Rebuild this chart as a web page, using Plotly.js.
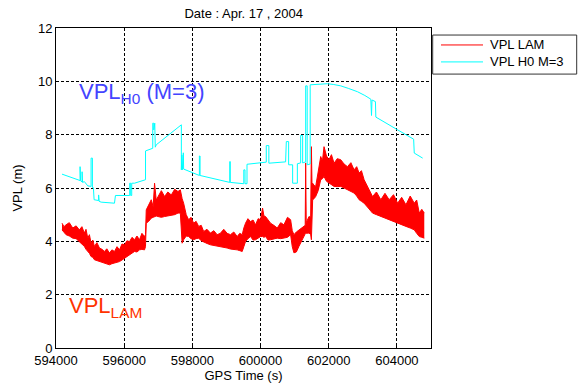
<!DOCTYPE html>
<html>
<head>
<meta charset="utf-8">
<script src="https://cdn.plot.ly/plotly-3.0.1.min.js"></script>
<style>html,body{margin:0;padding:0;background:#fff;}#chart{width:583px;height:383px;}</style>
</head>
<body>
<div id="chart"></div>
<script>
// VPL LAM (noisy band): time, upper envelope, lower envelope
const lamTime = [594176,594235,594294,594390,594491,594590,594685,594760,594832,594880,594932,594980,595029,595080,595126,595200,595274,595350,595421,595490,595568,595640,595715,595790,595862,595935,596009,596080,596156,596230,596303,596375,596450,596520,596597,596625,596647,596720,596794,596850,596891,596940,596991,597090,597185,597280,597382,597480,597579,597647,597700,597744,597820,597891,597960,598038,598110,598185,598260,598332,598430,598529,598630,598726,598820,598921,599020,599118,599215,599315,599390,599462,599510,599559,599630,599706,599780,599853,599930,600000,600059,600100,600147,600220,600294,600390,600491,600590,600685,600790,600882,600930,600979,601050,601126,601200,601274,601310,601324,601340,601421,601470,601491,601510,601529,601570,601618,601690,601765,601815,601862,601935,602009,602080,602156,602250,602353,602450,602550,602650,602744,602820,602891,602960,603038,603160,603285,603400,603529,603650,603773,603900,604021,604140,604265,604390,604509,604580,604656,604730,604803];
const lamHigh = [4.68,4.55,4.62,4.70,4.50,4.58,4.43,4.55,4.31,4.45,4.12,4.25,3.93,4.05,3.81,3.95,3.75,3.70,3.62,3.72,3.56,3.68,3.62,3.80,3.68,3.90,3.87,4.02,3.99,4.15,4.06,4.20,4.06,4.30,4.18,4.25,5.18,5.40,5.56,5.30,6.18,5.55,5.68,5.90,5.68,5.85,5.74,5.95,5.87,5.93,5.60,5.43,5.00,4.81,4.90,4.68,4.75,4.56,4.60,4.37,4.45,4.31,4.40,4.25,4.30,4.45,4.30,4.25,4.35,4.18,4.30,4.25,4.50,4.68,4.85,4.74,4.80,4.62,4.85,4.81,5.25,4.95,4.93,4.80,4.68,4.60,4.50,4.70,4.62,4.90,4.81,4.40,4.25,4.35,4.43,4.50,4.56,4.60,6.94,4.70,4.93,4.90,7.55,6.10,6.18,6.10,6.06,6.60,7.18,7.00,7.55,7.20,7.06,7.25,6.93,7.10,7.06,6.90,6.80,6.95,6.68,6.80,6.56,6.65,6.31,6.00,5.68,5.85,5.56,5.80,5.56,5.75,5.43,5.65,5.37,5.70,5.43,5.55,5.06,5.20,5.06];
const lamLow  = [4.43,4.35,4.25,4.20,4.12,4.10,3.99,3.92,3.81,3.70,3.62,3.55,3.43,3.40,3.31,3.28,3.24,3.20,3.18,3.14,3.12,3.16,3.18,3.20,3.24,3.30,3.37,3.42,3.50,3.55,3.62,3.60,3.68,3.70,3.68,3.80,4.68,4.75,4.87,4.90,4.93,4.95,4.93,4.90,4.93,4.95,4.99,5.00,5.06,5.06,3.93,4.06,4.20,4.18,4.10,4.06,4.10,4.12,4.02,3.99,3.92,3.87,3.85,3.83,3.80,3.78,3.75,3.71,3.70,3.68,3.65,3.62,3.80,3.99,4.10,4.18,4.05,4.06,4.12,4.18,4.18,4.15,4.18,4.05,4.06,4.10,4.12,4.10,4.12,4.15,4.25,3.80,3.57,3.60,3.81,4.00,4.25,4.28,4.31,4.30,4.31,4.25,4.06,5.40,5.56,5.60,5.68,5.90,6.31,6.35,6.43,6.25,6.18,6.10,6.06,6.05,6.06,6.00,5.93,5.85,5.81,5.70,5.56,5.50,5.43,5.25,5.06,5.00,4.93,4.88,4.81,4.75,4.68,4.62,4.56,4.50,4.43,4.30,4.18,4.15,4.12];

// VPL H0 (M=3)
const h0Time = [594176,594647,594706,594706,594721,594765,594765,594779,594832,594882,594932,595029,595029,595068,595068,595097,595118,595250,595250,595265,595265,595324,595715,595744,596162,596162,596191,596191,596221,596221,596303,596626,596626,596838,596838,596868,596868,596897,596912,596941,597677,597677,597691,597706,597735,597744,598206,598206,598226,598226,599097,599097,599112,599112,599509,599509,599544,599544,599603,599603,600168,600168,600244,600244,600735,600756,600824,600824,600941,600941,601080,601080,601177,601177,601235,601235,601324,601324,601368,601368,601456,601456,601618,601765,601962,602147,602353,602588,602844,603059,603235,603255,603270,603370,603382,604021,604491,604509,604609,604756];
const h0VPL  = [6.52,6.29,6.28,6.80,6.27,6.23,6.61,6.21,6.24,6.16,6.08,6.06,7.12,7.12,6.02,6.01,5.56,5.53,5.74,5.74,5.50,5.47,5.43,5.72,5.72,6.18,6.18,5.72,5.72,6.18,6.18,6.31,7.39,7.49,8.43,8.43,8.18,8.43,7.53,7.62,8.37,6.68,7.24,6.68,7.32,6.71,6.47,7.20,7.20,6.47,6.21,6.99,6.99,6.21,6.16,6.68,6.68,6.16,6.16,6.89,6.97,7.59,7.59,6.93,6.98,7.74,7.74,6.87,6.87,6.18,6.18,6.91,6.94,7.97,7.97,6.94,6.98,9.83,9.83,6.87,6.90,9.87,9.88,9.90,9.91,9.88,9.83,9.73,9.61,9.47,9.33,8.72,9.30,9.24,8.66,8.18,7.83,7.31,7.24,7.12];

const seriesNames = ['VPL LAM', 'VPL H0 M=3'];
const seriesColors = ['#ff0000', '#00ffff'];
const xTicks = [594000,596000,598000,600000,602000,604000];
const yTicks = [0,2,4,6,8,10,12];

const FONT = 'Liberation Sans, Arial, sans-serif';

const traces = [
  {x: lamTime, y: lamHigh, type: 'scatter', mode: 'lines', name: seriesNames[0],
   line: {color: seriesColors[0], width: 1}},
  {x: lamTime, y: lamLow, type: 'scatter', mode: 'lines', name: seriesNames[0],
   fill: 'tonexty', fillcolor: seriesColors[0], line: {color: seriesColors[0], width: 1}},
  {x: h0Time, y: h0VPL, type: 'scatter', mode: 'lines', name: seriesNames[1],
   line: {color: seriesColors[1], width: 1}}
];

const axisCommon = {
  showline: true, mirror: true, linecolor: '#000', linewidth: 1,
  showgrid: true, gridcolor: '#000', gridwidth: 1, griddash: '3px,2px',
  zeroline: false, ticks: 'inside', ticklen: 3, tickcolor: '#000',
  tickfont: {family: FONT, size: 13, color: '#000'}
};

// legend box (MATLAB style), placed in paper coordinates to the right of the axes
const legBox = {x0: 1.0045, x1: 1.3885, y0: 0.856, y1: 0.978};
const legRows = [0.947, 0.894];
const legLine = [1.0267, 1.1387];
const legTextX = 1.152;

const shapes = [
  {type: 'rect', xref: 'paper', yref: 'paper', x0: legBox.x0, x1: legBox.x1, y0: legBox.y0, y1: legBox.y1,
   line: {color: '#333', width: 1}, fillcolor: '#fff', layer: 'above'}
];
const annotations = [
  {xref: 'x', yref: 'y', x: 594609, y: 9.57, xanchor: 'left', yanchor: 'middle', showarrow: false,
   text: 'VPL<sub>H0</sub> (M=3)', font: {family: FONT, size: 22, color: '#4444ff'}},
  {xref: 'x', yref: 'y', x: 594315, y: 1.55, xanchor: 'left', yanchor: 'middle', showarrow: false,
   text: 'VPL<sub>LAM</sub>', font: {family: FONT, size: 22, color: '#ff3300'}}
];
seriesNames.forEach(function (nm, i) {
  shapes.push({type: 'line', xref: 'paper', yref: 'paper', x0: legLine[0], x1: legLine[1],
    y0: legRows[i], y1: legRows[i], line: {color: seriesColors[i], width: 1}, layer: 'above'});
  annotations.push({xref: 'paper', yref: 'paper', x: legTextX, y: legRows[i], xanchor: 'left', yanchor: 'middle',
    showarrow: false, text: nm, font: {family: FONT, size: 13, color: '#000'}});
});

const layout = {
  width: 583, height: 383,
  margin: {l: 56, r: 152, t: 28, b: 35},
  paper_bgcolor: '#fff', plot_bgcolor: '#fff',
  font: {family: FONT, size: 13, color: '#000'},
  title: {text: 'Date : Apr. 17 , 2004', x: 0.418, xanchor: 'center', y: 0.965, yanchor: 'middle',
          font: {family: FONT, size: 13, color: '#000'}},
  xaxis: Object.assign({}, axisCommon, {
    range: [594000, 605000], tickvals: xTicks, tickformat: 'd',
    title: {text: 'GPS Time (s)', standoff: 0, font: {family: FONT, size: 13}}
  }),
  yaxis: Object.assign({}, axisCommon, {
    range: [0, 12], tickvals: yTicks,
    title: {text: 'VPL (m)', standoff: 12, font: {family: FONT, size: 13}}
  }),
  showlegend: false,
  shapes: shapes,
  annotations: annotations
};

Plotly.newPlot('chart', traces, layout, {displayModeBar: false, staticPlot: true});
</script>
</body>
</html>
